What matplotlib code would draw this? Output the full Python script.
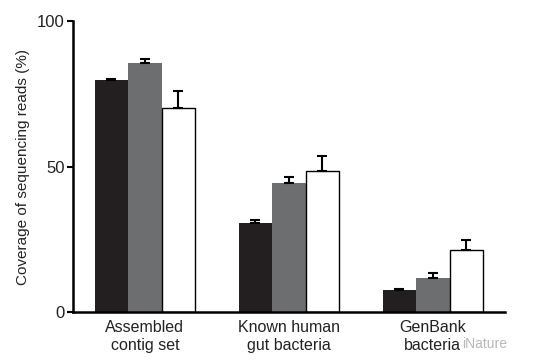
import matplotlib
matplotlib.use("Agg")
import matplotlib.pyplot as plt
import numpy as np

plt.rcParams['font.family'] = ['Liberation Sans', 'DejaVu Sans']

categories = ["Assembled\ncontig set", "Known human\ngut bacteria", "GenBank\nbacteria"]
series_black = [79.7, 30.6, 7.5]
series_gray = [85.6, 44.3, 11.7]
series_white = [70.1, 48.5, 21.3]
err_black = [0.4, 1.0, 0.4]
err_gray = [1.3, 2.1, 1.7]
err_white = [6.0, 5.1, 3.4]
yticks = [0, 50, 100]

fig = plt.figure(figsize=(5.36, 3.64), dpi=100)
ax = fig.add_axes([0.136, 0.143, 0.806, 0.799])

x = np.arange(len(categories))
w = 0.233
styles = [
    (series_black, err_black, "#231f20", "#231f20"),
    (series_gray, err_gray, "#6d6e70", "#6d6e70"),
    (series_white, err_white, "white", "black"),
]
for i, (vals, errs, fc, ec) in enumerate(styles):
    pos = x + (i - 1) * w
    ax.bar(pos, vals, width=w, color=fc, edgecolor=ec, linewidth=1.0 if fc == "white" else 0, zorder=2)
    ax.errorbar(pos, vals, yerr=[np.zeros(len(vals)), errs], fmt='none', ecolor='black',
                elinewidth=1.5, capsize=3.5, capthick=1.5, zorder=3)

ax.set_xlim(-0.5, 2.5)
ax.set_ylim(0, 100)
ax.set_yticks(yticks)
ax.set_xticks(x)
ax.set_xticklabels(categories, fontsize=11.5, linespacing=1.2, color="#222222")
ax.tick_params(axis='x', length=0, pad=6)
ax.tick_params(axis='y', length=4, width=1.5, labelsize=12, pad=2, labelcolor="#222222")
for s in ['top', 'right']:
    ax.spines[s].set_visible(False)
for s in ['left', 'bottom']:
    ax.spines[s].set_linewidth(1.8)
ax.set_ylabel("Coverage of sequencing reads (%)", fontsize=11, labelpad=5, color="#222222")

fig.text(0.905, 0.055, "iNature", fontsize=10, color="#b8b8b8", ha='center', va='center')

fig.savefig("out.png", dpi=100)
